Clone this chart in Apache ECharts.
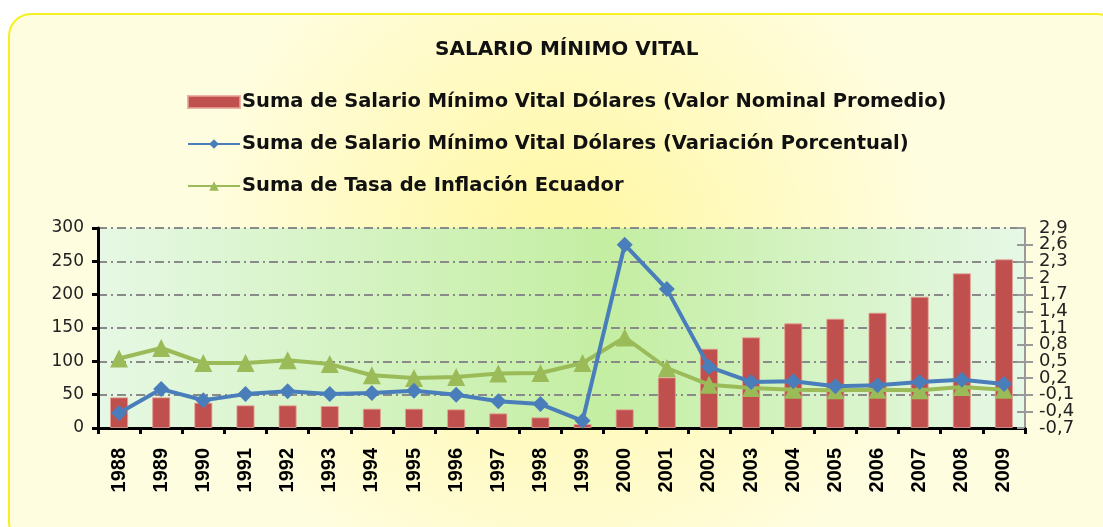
<!DOCTYPE html>
<html>
<head>
<meta charset="utf-8">
<script src="https://cdn.jsdelivr.net/npm/echarts@6/dist/echarts.min.js"></script>
<style>
  html, body { margin: 0; padding: 0; background: #ffffff; }
  #chart { width: 1103px; height: 527px; }
</style>
</head>
<body>
<div id="chart"></div>
<script>
// datos
var anios = ['1988', '1989', '1990', '1991', '1992', '1993', '1994', '1995', '1996', '1997', '1998',
             '1999', '2000', '2001', '2002', '2003', '2004', '2005', '2006', '2007', '2008', '2009'];
var valorNominal = [46, 46, 38, 34, 34, 33, 29, 29, 28, 22, 16,
                    6, 28, 76, 119, 136, 157, 164, 173, 197, 232, 253];
var variacion = [-0.43, 0.0, -0.2, -0.09, -0.04, -0.09, -0.07, -0.03, -0.1, -0.22, -0.27,
                 -0.57, 2.6, 1.8, 0.4, 0.13, 0.14, 0.05, 0.07, 0.13, 0.17, 0.09];
var inflacion = [0.55, 0.74, 0.47, 0.47, 0.52, 0.45, 0.25, 0.2, 0.22, 0.28, 0.29,
                 0.47, 0.93, 0.38, 0.08, 0.02, -0.01, -0.02, -0.01, -0.02, 0.04, -0.01];
var leyenda = ['Suma de Salario Mínimo Vital Dólares (Valor Nominal Promedio)',
               'Suma de Salario Mínimo Vital Dólares (Variación Porcentual)',
               'Suma de Tasa de Inflación Ecuador'];

// eje derecho: -0,7 .. 2,9 cada 0,3 (se desplaza para que min sea multiplo del intervalo)
var DESPL = 0.7;
var DER_MIN = 0, DER_MAX = 3.6;

function etiquetaDer(v) {
    var r = Math.round((v - DESPL) * 10) / 10;
    return String(r).replace('.', ',');
}

var myChart = echarts.init(document.getElementById('chart'));

var ejeDer = {
    type: 'value',
    min: DER_MIN,
    max: DER_MAX,
    interval: 0.3,
    position: 'right',
    splitLine: { show: false }
};
var estiloEtiqDer = {
    interval: 0,
    fontFamily: 'DejaVu Sans',
    fontSize: 18,
    lineHeight: 10,
    color: '#222',
    margin: 14,
    hideOverlap: false
};

var opt = {
    backgroundColor: '#ffffff',
    graphic: [{
        type: 'rect',
        z: -10,
        shape: { x: 9, y: 14, width: 1110, height: 530, r: 22 },
        style: {
            fill: new echarts.graphic.RadialGradient(0.5, 0.45, 0.7, [
                { offset: 0, color: '#fff7a0' },
                { offset: 1, color: '#fffde0' }
            ]),
            stroke: '#f5f020',
            lineWidth: 2
        }
    }],
    title: {
        text: 'SALARIO MÍNIMO VITAL',
        left: 430,
        top: 35,
        textStyle: {
            fontFamily: 'DejaVu Sans',
            fontSize: 20,
            fontWeight: 'bold',
            color: '#111'
        }
    },
    legend: {
        orient: 'vertical',
        left: 182,
        top: 87,
        itemGap: 22,
        itemWidth: 52,
        itemHeight: 12,
        data: [
            { name: leyenda[0], icon: 'rect' },
            leyenda[1],
            leyenda[2]
        ],
        textStyle: {
            fontFamily: 'DejaVu Sans',
            fontSize: 19.5,
            fontWeight: 'bold',
            color: '#111',
            padding: [0, 0, 0, -3]
        }
    },
    grid: {
        left: 98,
        right: 78,
        top: 228,
        bottom: 99,
        show: true,
        borderWidth: 0,
        backgroundColor: new echarts.graphic.LinearGradient(0, 0, 1, 0, [
            { offset: 0, color: '#e6f8e4' },
            { offset: 0.55, color: '#c4eea2' },
            { offset: 1, color: '#e6f8e6' }
        ])
    },
    xAxis: {
        type: 'category',
        data: anios,
        boundaryGap: true,
        axisLine: { lineStyle: { color: '#000', width: 3 } },
        axisTick: { show: true, length: 6, lineStyle: { color: '#000', width: 3 } },
        axisLabel: {
            rotate: 90,
            fontFamily: 'Liberation Sans',
            fontSize: 20,
            fontWeight: 'bold',
            color: '#000',
            margin: 20
        }
    },
    yAxis: [{
        type: 'value',
        min: 0,
        max: 300,
        interval: 50,
        axisLine: { show: true, lineStyle: { color: '#000', width: 3 } },
        axisTick: { show: true, length: 6, lineStyle: { color: '#000', width: 3 } },
        axisLabel: {
            fontFamily: 'DejaVu Sans',
            fontSize: 17,
            color: '#222',
            margin: 14
        },
        splitLine: {
            show: true,
            lineStyle: { color: '#8a8a8a', width: 2, type: [9, 4, 2, 4] }
        }
    }, Object.assign({}, ejeDer, {
        axisLine: { show: true, lineStyle: { color: '#999', width: 2 } },
        axisTick: { show: true, length: 8, lineStyle: { color: '#999', width: 2 } },
        axisLabel: Object.assign({}, estiloEtiqDer, {
            showMinLabel: false,
            showMaxLabel: false,
            formatter: etiquetaDer
        })
    }), Object.assign({}, ejeDer, {
        // marcas hacia dentro y etiquetas de los extremos
        axisLine: { show: false },
        axisTick: { show: true, inside: true, length: 8, lineStyle: { color: '#999', width: 2 } },
        axisLabel: Object.assign({}, estiloEtiqDer, {
            showMinLabel: true,
            showMaxLabel: true,
            formatter: function (v) {
                return (v === DER_MIN || v === DER_MAX) ? etiquetaDer(v) : '';
            }
        })
    })],
    series: [{
        name: leyenda[0],
        type: 'bar',
        yAxisIndex: 0,
        barWidth: '43%',
        data: valorNominal,
        itemStyle: { color: '#c0504d', borderColor: 'rgba(230,160,150,0.8)', borderWidth: 1 },
        z: 2
    }, {
        name: leyenda[1],
        type: 'line',
        yAxisIndex: 1,
        data: variacion.map(function (v) { return v + DESPL; }),
        symbol: 'diamond',
        symbolSize: 16,
        lineStyle: { color: '#4a7ebb', width: 4 },
        itemStyle: { color: '#4a7ebb' },
        z: 4
    }, {
        name: leyenda[2],
        type: 'line',
        yAxisIndex: 1,
        data: inflacion.map(function (v) { return v + DESPL; }),
        symbol: 'triangle',
        symbolSize: 18,
        lineStyle: { color: '#9bbb59', width: 4 },
        itemStyle: { color: '#9bbb59' },
        z: 3
    }]
};

myChart.setOption(opt);
</script>
</body>
</html>
